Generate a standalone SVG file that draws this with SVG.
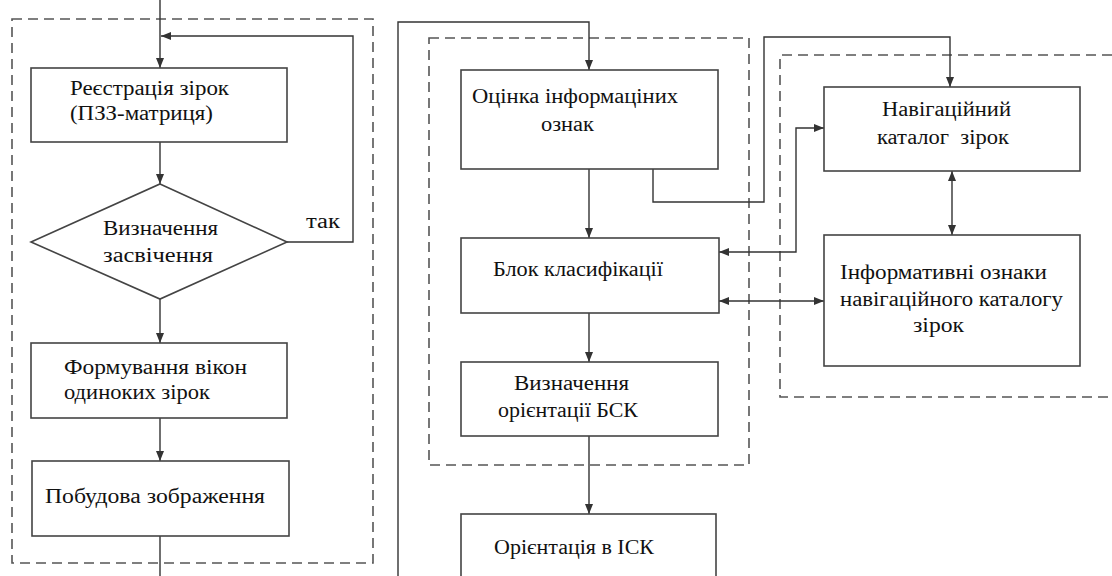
<svg xmlns="http://www.w3.org/2000/svg" width="1112" height="576" viewBox="0 0 1112 576">
  <style>
    .box { fill: #fff; stroke: #444; stroke-width: 1.6; }
    .group { fill: none; stroke: #555; stroke-width: 1.6; stroke-dasharray: 10 6; }
    .wire { fill: none; stroke: #333; stroke-width: 1.4; }
    .lbl { font-family: 'Liberation Serif', 'DejaVu Serif', serif; font-size: 20px; fill: #111; }
  </style>
  <defs>
    <marker id="arr" viewBox="0 0 10 10" refX="10" refY="5" markerWidth="10" markerHeight="10" markerUnits="userSpaceOnUse" orient="auto-start-reverse">
      <path d="M0,1 L10,5 L0,9 Z" fill="#333"/>
    </marker>
  </defs>
  <rect width="1112" height="576" fill="#fff"/>

  <!-- dashed grouping frames -->
  <g id="frames">
    <rect class="group" x="12" y="19" width="361" height="544"/>
    <rect class="group" x="429" y="38" width="320" height="427"/>
    <path class="group" d="M1112,55 H780 V397 H1112"/>
  </g>

  <!-- connectors -->
  <g id="connectors">
    <path class="wire" d="M160,0 V68" marker-end="url(#arr)"/>
    <path class="wire" d="M287,242 H353 V36 H161" marker-end="url(#arr)"/>
    <path class="wire" d="M160,142 V184" marker-end="url(#arr)"/>
    <path class="wire" d="M160,299 V343" marker-end="url(#arr)"/>
    <path class="wire" d="M160,418 V461" marker-end="url(#arr)"/>
    <path class="wire" d="M160,536 V576"/>
    <path class="wire" d="M398,576 V22 H589 V70" marker-end="url(#arr)"/>
    <path class="wire" d="M589,169 V238" marker-end="url(#arr)"/>
    <path class="wire" d="M589,313 V362" marker-end="url(#arr)"/>
    <path class="wire" d="M589,436 V514" marker-end="url(#arr)"/>
    <path class="wire" d="M653,169 V202 H764 V37 H950 V87" marker-end="url(#arr)"/>
    <path class="wire" d="M719,252 H796 V128 H824" marker-start="url(#arr)" marker-end="url(#arr)"/>
    <path class="wire" d="M719,301 H824" marker-start="url(#arr)" marker-end="url(#arr)"/>
    <path class="wire" d="M952,171 V235" marker-start="url(#arr)" marker-end="url(#arr)"/>
  </g>

  <g id="registration">
    <rect class="box" x="31" y="68" width="256" height="74"/>
    <text class="lbl" x="70" y="95" textLength="159" lengthAdjust="spacingAndGlyphs">Реєстрація зірок</text>
    <text class="lbl" x="70" y="120" textLength="143" lengthAdjust="spacingAndGlyphs">(ПЗЗ-матриця)</text>
  </g>
  <g id="exposure">
    <polygon class="box" points="160,184 287,242 160,299 31,242"/>
    <text class="lbl" x="103" y="235" textLength="115" lengthAdjust="spacingAndGlyphs">Визначення</text>
    <text class="lbl" x="103" y="262" textLength="110" lengthAdjust="spacingAndGlyphs">засвічення</text>
    <text class="lbl" x="306" y="228" textLength="34" lengthAdjust="spacingAndGlyphs">так</text>
  </g>
  <g id="windows">
    <rect class="box" x="31" y="343" width="256" height="75"/>
    <text class="lbl" x="64" y="374" textLength="183" lengthAdjust="spacingAndGlyphs">Формування вікон</text>
    <text class="lbl" x="64" y="399" textLength="146" lengthAdjust="spacingAndGlyphs">одиноких зірок</text>
  </g>
  <g id="image">
    <rect class="box" x="32" y="461" width="257" height="75"/>
    <text class="lbl" x="45" y="503" textLength="220" lengthAdjust="spacingAndGlyphs">Побудова зображення</text>
  </g>
  <g id="features">
    <rect class="box" x="461" y="70" width="257" height="99"/>
    <text class="lbl" x="472" y="103" textLength="206" lengthAdjust="spacingAndGlyphs">Оцінка інформаціних</text>
    <text class="lbl" x="541" y="131" textLength="53" lengthAdjust="spacingAndGlyphs">ознак</text>
  </g>
  <g id="classifier">
    <rect class="box" x="461" y="238" width="258" height="75"/>
    <text class="lbl" x="493" y="276" textLength="170" lengthAdjust="spacingAndGlyphs">Блок класифікації</text>
  </g>
  <g id="bsk">
    <rect class="box" x="461" y="362" width="257" height="74"/>
    <text class="lbl" x="514" y="390" textLength="115" lengthAdjust="spacingAndGlyphs">Визначення</text>
    <text class="lbl" x="498" y="417" textLength="140" lengthAdjust="spacingAndGlyphs">орієнтації БСК</text>
  </g>
  <g id="isk">
    <rect class="box" x="461" y="514" width="255" height="70"/>
    <text class="lbl" x="494" y="554" textLength="160" lengthAdjust="spacingAndGlyphs">Орієнтація в ІСК</text>
  </g>
  <g id="catalog">
    <rect class="box" x="824" y="87" width="256" height="84"/>
    <text class="lbl" x="882" y="116" textLength="129" lengthAdjust="spacingAndGlyphs">Навігаційний</text>
    <text class="lbl" x="877" y="144" xml:space="preserve" textLength="132" lengthAdjust="spacingAndGlyphs">каталог  зірок</text>
  </g>
  <g id="catalog-features">
    <rect class="box" x="824" y="235" width="256" height="131"/>
    <text class="lbl" x="840" y="279" textLength="207" lengthAdjust="spacingAndGlyphs">Інформативні ознаки</text>
    <text class="lbl" x="840" y="306" textLength="223" lengthAdjust="spacingAndGlyphs">навігаційного каталогу</text>
    <text class="lbl" x="913" y="332" textLength="51" lengthAdjust="spacingAndGlyphs">зірок</text>
  </g>
</svg>
